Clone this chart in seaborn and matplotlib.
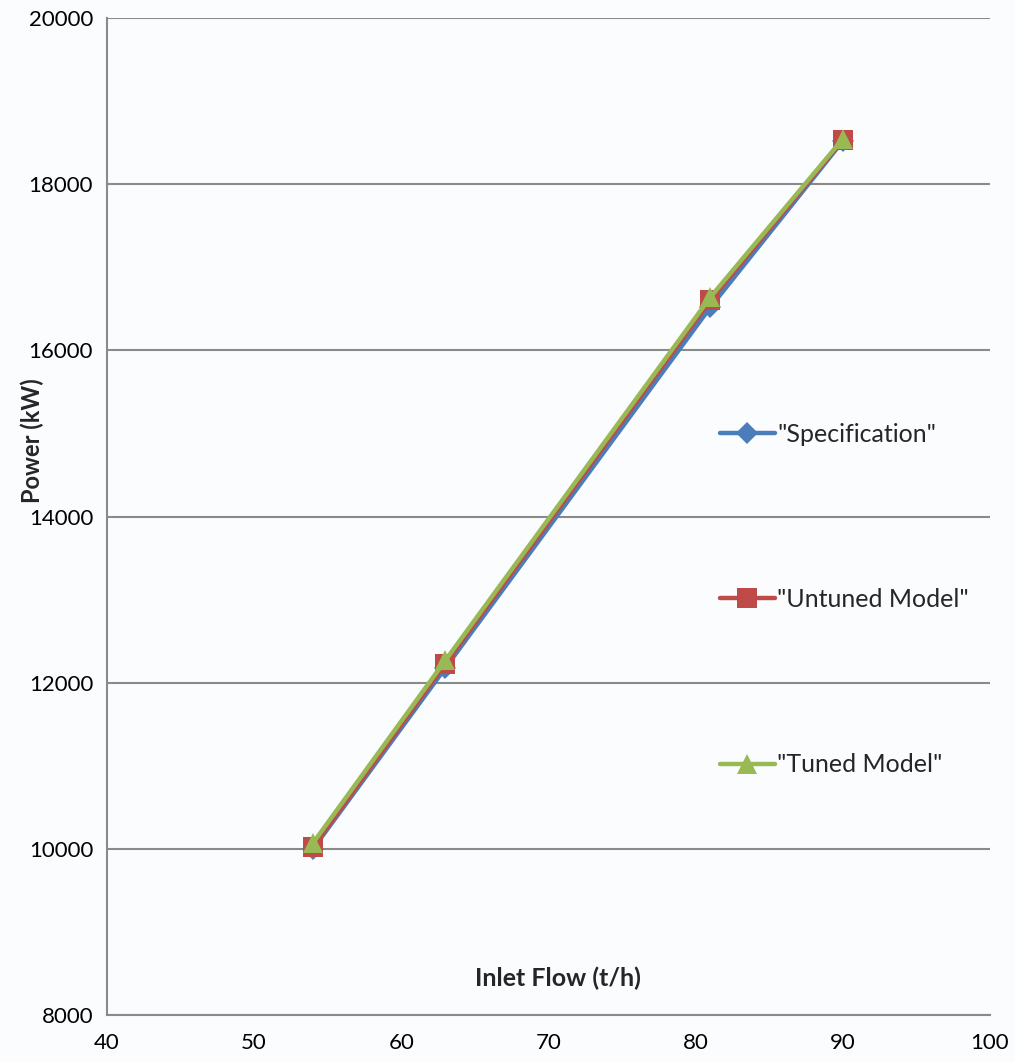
import matplotlib
matplotlib.use('Agg')
import matplotlib.pyplot as plt
import pandas as pd
import seaborn as sns

# Values
inlet_flow = [54, 63, 81, 90]
spec_power = [10000, 12180, 16520, 18520]
untuned_power = [10020, 12230, 16600, 18530]
tuned_power = [10070, 12270, 16640, 18545]

series_names = ['"Specification"', '"Untuned Model"', '"Tuned Model"']
series_values = [spec_power, untuned_power, tuned_power]
colors = ['#4A7EBB', '#BE4B48', '#98B954']
markers = ['D', 's', '^']
marker_sizes = [11, 14, 15]

x_ticks = [40, 50, 60, 70, 80, 90, 100]
y_ticks = [8000, 10000, 12000, 14000, 16000, 18000, 20000]

sns.set_style('white')
plt.rcParams['font.family'] = ['Lato', 'DejaVu Sans']

bg = '#fbfcfe'
fig = plt.figure(figsize=(10.15, 10.62), dpi=100, facecolor=bg)
ax = fig.add_axes([107 / 1015, 1 - 1015 / 1062, (990 - 107) / 1015, (1015 - 18) / 1062])
ax.set_facecolor(bg)

# Long-form table for seaborn
rows = []
for name, vals in zip(series_names, series_values):
    for x, y in zip(inlet_flow, vals):
        rows.append({'flow': x, 'power': y, 'series': name})
df = pd.DataFrame(rows)

for name, c, m, ms in zip(series_names, colors, markers, marker_sizes):
    sub = df[df['series'] == name]
    sns.lineplot(data=sub, x='flow', y='power', ax=ax, color=c, lw=3.2,
                 marker=m, markersize=ms, markeredgewidth=0, label=name,
                 solid_capstyle='round', solid_joinstyle='round')

ax.set_xlim(40, 100)
ax.set_ylim(8000, 20000)
ax.set_xticks(x_ticks)
ax.set_yticks(y_ticks)
ax.tick_params(axis='both', labelsize=16, colors='#888888', labelcolor='black',
               direction='out', length=6, width=1.5, pad=4)
ax.tick_params(axis='x', pad=7)
ax.yaxis.grid(True, color='#8a8a8a', lw=1.5)
ax.xaxis.grid(False)
for side in ['top', 'right']:
    ax.spines[side].set_visible(False)
for side in ['left', 'bottom']:
    ax.spines[side].set_color('#8a8a8a')
    ax.spines[side].set_linewidth(1.5)

ax.set_xlabel('Inlet Flow (t/h)', fontsize=18, fontweight='bold')
ax.xaxis.set_label_coords((558 - 107) / 883, (1015 - 967) / 997)
ax.set_ylabel('Power (kW)', fontsize=17, fontweight='bold')
ax.yaxis.set_label_coords((44 - 107) / 883, (1015 - 441) / 997)

leg = ax.legend(loc='upper left', bbox_to_anchor=((707 - 107) / 883, (1015 - 410) / 997),
                frameon=False, fontsize=18, labelspacing=5.7, handlelength=2.2,
                handletextpad=0.1, borderpad=0)

fig.savefig('out.png', dpi=100, facecolor=bg)
